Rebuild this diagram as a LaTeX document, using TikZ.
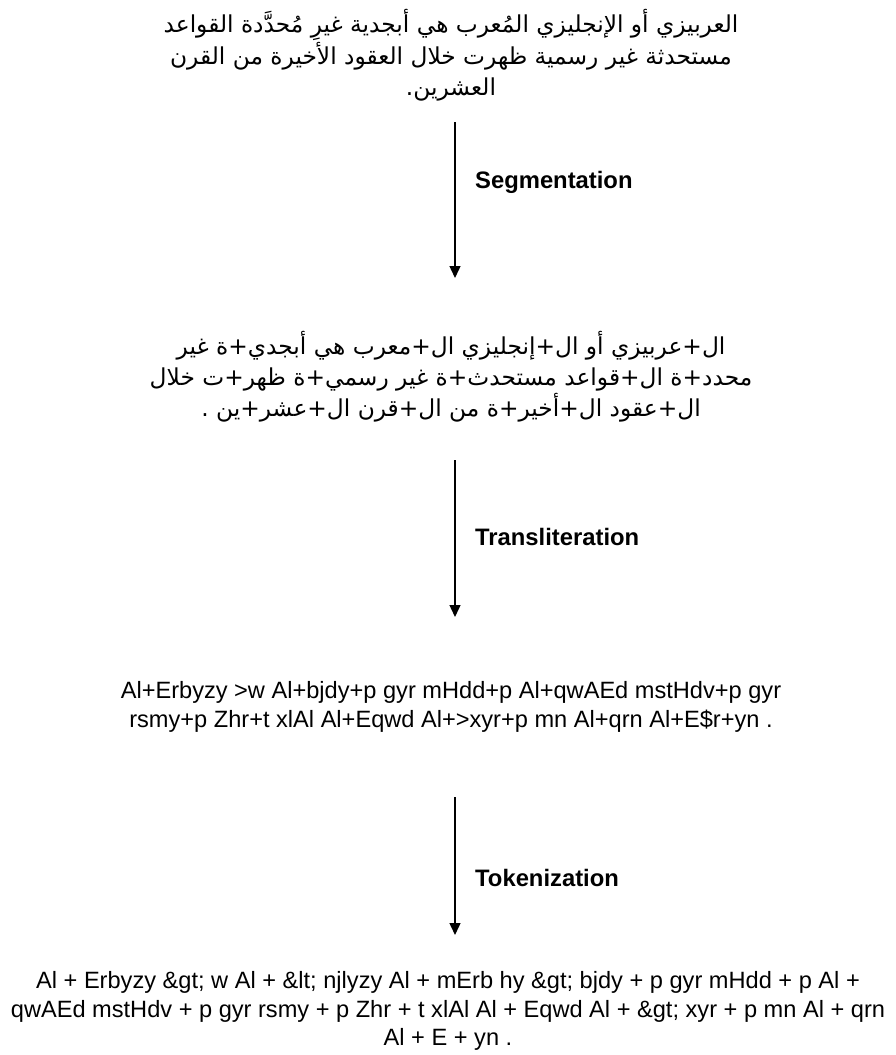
\documentclass[tikz,border=0pt]{standalone}
\usepackage{fontspec}
\setmainfont{Liberation Sans}
\newfontfamily\arabicfont[Script=Arabic]{DejaVu Sans}
\TeXXeTstate=1
\usetikzlibrary{arrows.meta}

\begin{document}
\begin{tikzpicture}[x=1pt,y=1pt,
  arabic/.style={align=center, font=\arabicfont\fontsize{23.3}{31}\selectfont, inner sep=0pt},
  latin/.style={align=center, font=\fontsize{23.6}{28.5}\selectfont, inner sep=0pt},
  steplabel/.style={anchor=west, font=\bfseries\fontsize{23.8}{26}\selectfont, inner sep=0pt},
  flow/.style={line width=1.4pt, -{Triangle[length=12pt,width=11pt]}}]
\useasboundingbox (0,0) rectangle (896,-1055);

% source sentence
\node[arabic] (src) at (451,-55) {%
  \beginR العربيزي أو الإنجليزي المُعرب هي أبجدية غيرِ مُحدَّدة القواعد\endR\\
  \beginR مستحدثة غير رسمية ظهرت خلال العقود الأخيرة من القرن\endR\\
  \beginR العشرين{}.\endR};

% segmented sentence
\node[arabic] (seg) at (451,-377) {%
  \beginR ال+عربيزي أو ال+إنجليزي ال+معرب هي أبجدي+ة غير\endR\\
  \beginR محدد+ة ال+قواعد مستحدث+ة غير رسمي+ة ظهر+ت خلال\endR\\
  \beginR ال+عقود ال+أخير+ة من ال+قرن ال+عشر+ين .\endR};

% transliterated sentence
\node[latin] (trl) at (451,-707) {%
  Al+Erbyzy >w Al+bjdy+p gyr mHdd+p Al+qwAEd mstHdv+p gyr\\
  rsmy+p Zhr+t xlAl Al+Eqwd Al+>xyr+p mn Al+qrn Al+E\$r+yn .};

% tokenized sentence
\node[latin] (tok) at (448,-1011) {%
  Al + Erbyzy \&gt; w Al + \&lt; njlyzy Al + mErb hy \&gt; bjdy + p gyr mHdd + p Al +\\
  qwAEd mstHdv + p gyr rsmy + p Zhr + t xlAl Al + Eqwd Al + \&gt; xyr + p mn Al + qrn\\
  Al + E + yn .};

% processing steps
\draw[flow] ([xshift=4pt,yshift=-67pt]src.center) -- ([xshift=4pt,yshift=99pt]seg.center);
\draw[flow] ([xshift=4pt,yshift=-83pt]seg.center) -- ([xshift=4pt,yshift=90pt]trl.center);
\draw[flow] ([xshift=4pt,yshift=-90pt]trl.center) -- ([xshift=7pt,yshift=76pt]tok.center);

\node[steplabel] (l1) at (475,-182) {Segmentation};
\node[steplabel] (l2) at (475,-537) {Transliteration};
\node[steplabel] (l3) at (475,-878) {Tokenization};
\end{tikzpicture}
\end{document}
